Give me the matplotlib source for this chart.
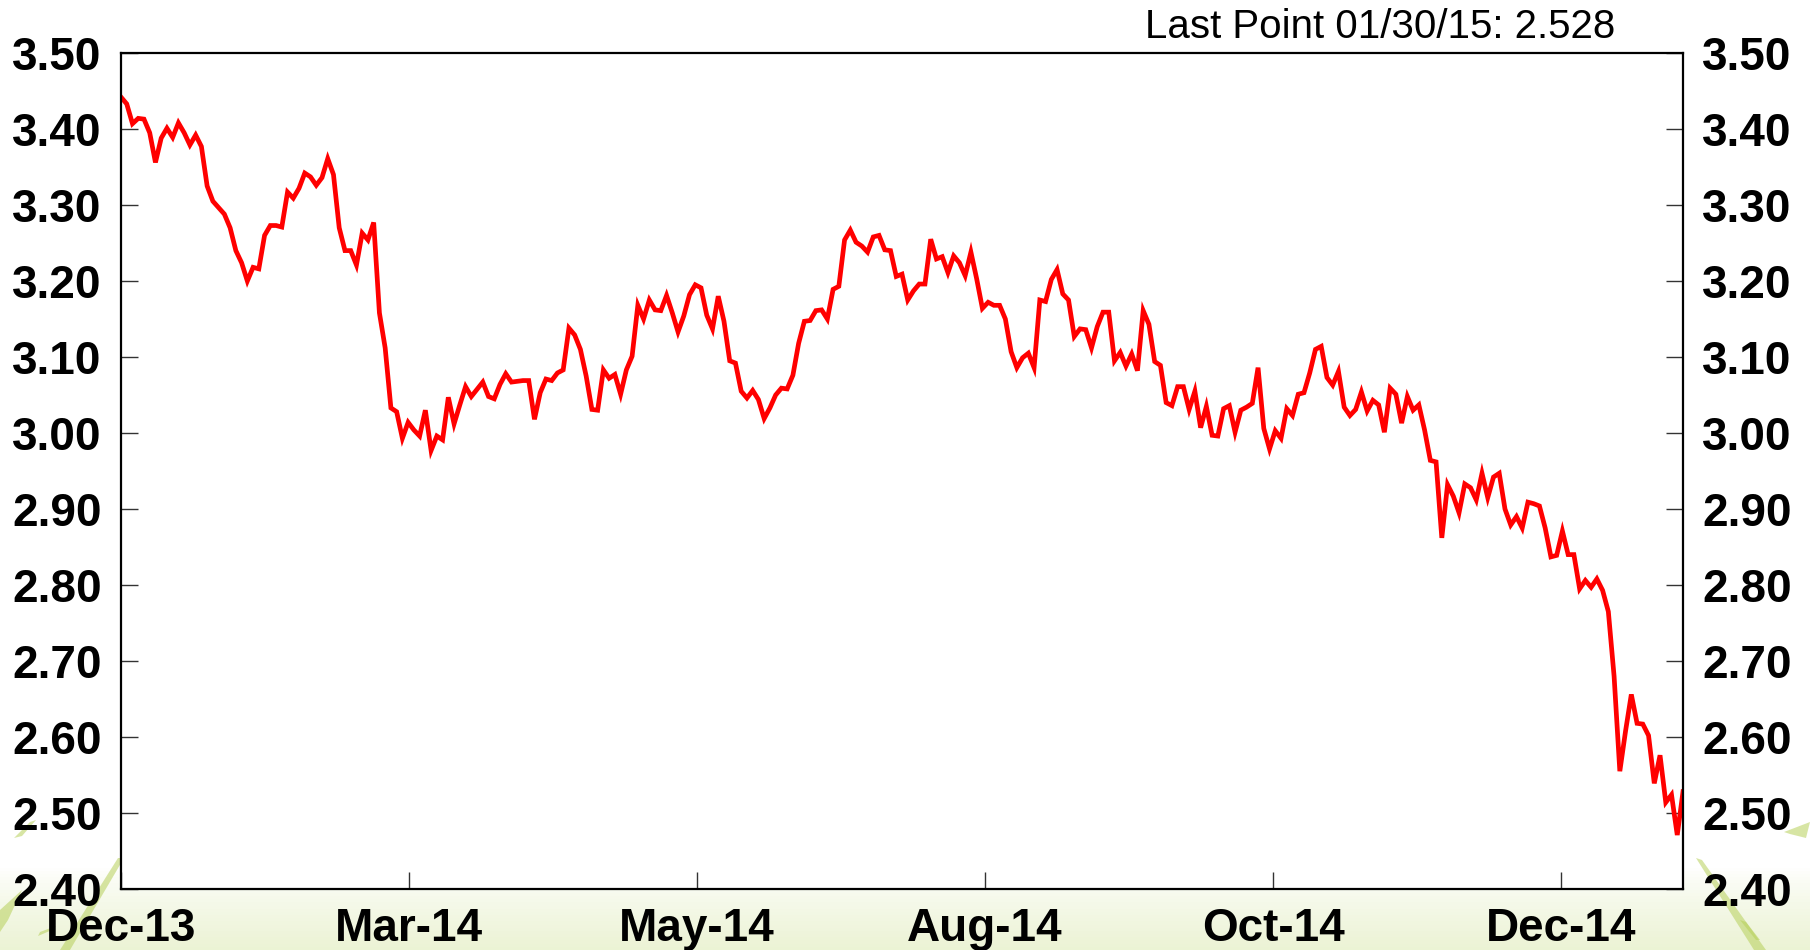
import numpy as np
import matplotlib
matplotlib.use('Agg')
import matplotlib.pyplot as plt
from matplotlib.patches import Polygon

# trading-day index and yield
day = (list(range(0, 17)) + list(range(18, 62)) + list(range(63, 69))
       + list(range(70, 273)))
yld = [3.442, 3.433, 3.407, 3.414, 3.413, 3.395, 3.356, 3.388, 3.401, 3.389,
       3.408, 3.395, 3.379, 3.392, 3.377, 3.325, 3.305,
       3.288, 3.270, 3.240, 3.224, 3.200, 3.218, 3.216, 3.260, 3.273, 3.273,
       3.271, 3.317, 3.309, 3.322, 3.342, 3.337, 3.326, 3.336, 3.361, 3.340,
       3.270, 3.240, 3.240, 3.221, 3.263, 3.254, 3.277, 3.158, 3.112, 3.033,
       3.028, 2.993, 3.014, 3.004, 2.996, 3.030, 2.977, 2.996, 2.991, 3.047,
       3.012, 3.037, 3.061, 3.048,
       3.067, 3.048, 3.045, 3.064, 3.078, 3.067,
       3.069, 3.069, 3.018, 3.053, 3.071, 3.069, 3.079, 3.083, 3.138, 3.129,
       3.110, 3.075, 3.031, 3.030, 3.083, 3.072, 3.077, 3.051, 3.083, 3.101,
       3.168, 3.150, 3.175, 3.162, 3.161, 3.181, 3.158, 3.133, 3.154, 3.182,
       3.195, 3.191, 3.155, 3.137, 3.180, 3.147, 3.095, 3.092, 3.055, 3.046,
       3.056, 3.044, 3.019, 3.033, 3.050, 3.059, 3.058, 3.076, 3.118, 3.147,
       3.148, 3.161, 3.162, 3.150, 3.189, 3.193, 3.254, 3.267, 3.251, 3.246,
       3.238, 3.258, 3.260, 3.241, 3.240, 3.206, 3.209, 3.175, 3.187, 3.196,
       3.196, 3.255, 3.229, 3.232, 3.211, 3.233, 3.224, 3.207, 3.238, 3.203,
       3.164, 3.172, 3.168, 3.168, 3.150, 3.107, 3.086, 3.099, 3.105, 3.086,
       3.175, 3.173, 3.202, 3.215, 3.183, 3.175, 3.127, 3.137, 3.136, 3.112,
       3.140, 3.159, 3.159, 3.095, 3.106, 3.088, 3.104, 3.082, 3.161, 3.143,
       3.094, 3.089, 3.040, 3.036, 3.061, 3.061, 3.031, 3.055, 3.007, 3.035,
       2.997, 2.996, 3.032, 3.036, 3.001, 3.030, 3.034, 3.039, 3.086, 3.006,
       2.979, 3.003, 2.993, 3.032, 3.023, 3.051, 3.053, 3.079, 3.110, 3.114,
       3.073, 3.063, 3.081, 3.034, 3.023, 3.031, 3.054, 3.029, 3.043, 3.037,
       3.001, 3.059, 3.051, 3.013, 3.048, 3.030, 3.037, 3.004, 2.964, 2.962,
       2.862, 2.932, 2.917, 2.895, 2.933, 2.928, 2.912, 2.947, 2.915, 2.942,
       2.947, 2.900, 2.879, 2.890, 2.875, 2.909, 2.907, 2.904, 2.875, 2.837,
       2.839, 2.871, 2.840, 2.840, 2.795, 2.806, 2.797, 2.808, 2.793, 2.765,
       2.680, 2.555, 2.608, 2.656, 2.618, 2.617, 2.602, 2.539, 2.576, 2.514,
       2.524, 2.471, 2.528]

x_labels = ['Dec-13', 'Mar-14', 'May-14', 'Aug-14', 'Oct-14', 'Dec-14']
y_ticks = [2.40, 2.50, 2.60, 2.70, 2.80, 2.90, 3.00, 3.10, 3.20, 3.30, 3.40, 3.50]
last_point = 'Last Point 01/30/15: 2.528'

plt.rcParams['font.family'] = ['Liberation Sans', 'DejaVu Sans']

W, H = 1810, 950
fig = plt.figure(figsize=(W / 100, H / 100), dpi=100)

# slide background: pale green band at the bottom plus a few grass blades
bg = fig.add_axes([0, 0, 1, 1], zorder=0)
rows = np.linspace(1, 0, 300)
a = np.clip((0.085 - rows) / 0.085, 0, 1) ** 0.8
pale = np.array([0.925, 0.953, 0.835])
img = (1 - a)[:, None, None] * np.ones(3) + a[:, None, None] * pale
img = np.repeat(img, 10, axis=1)
bg.imshow(img, aspect='auto', extent=[0, W, 0, H])
blades = [
    [(60, 0), (70, 0), (124, 92), (118, 92)],
    [(0, 18), (0, 40), (22, 60), (8, 30)],
    [(14, 112), (30, 128), (36, 130), (22, 114)],
    [(38, 14), (52, 20), (56, 24), (40, 18)],
    [(1696, 92), (1702, 90), (1766, 0), (1754, 0)],
    [(1784, 118), (1810, 128), (1806, 112), (1790, 116)],
    [(1740, 30), (1746, 28), (1760, 10), (1756, 10)],
]
for pts in blades:
    bg.add_patch(Polygon(pts, closed=True, facecolor='#b7d05a', edgecolor='none',
                         alpha=0.55))
bg.set_xlim(0, W)
bg.set_ylim(0, H)
bg.axis('off')

ax = fig.add_axes([121 / W, 1 - 889 / H, 1562 / W, 836 / H], zorder=1)
ax.set_facecolor('white')
ax.plot(day, yld, color='#ff0000', linewidth=3.4, solid_joinstyle='miter')

n = day[-1]
ax.set_xlim(0, n)
ax.set_ylim(2.40, 3.50)
ax.set_xticks(np.arange(6) * n * 288 / 1562)
ax.set_xticklabels(x_labels)
ax.set_yticks(y_ticks)
ax.set_yticklabels(['%.2f' % v for v in y_ticks])

for s in ax.spines.values():
    s.set_linewidth(1.6)
ax.tick_params(axis='both', direction='in', length=12, width=1, color='#333333',
               labelsize=33)
ax.tick_params(axis='y', left=True, right=True, labelleft=True, labelright=True, pad=14)
ax.tick_params(axis='x', pad=13)
for lab in ax.get_xticklabels() + ax.get_yticklabels():
    lab.set_fontweight('bold')

fig.text(1380 / W, 1 - 38 / H, last_point, fontsize=29, ha='center',
         va='baseline')

fig.savefig('out.png', dpi=100)
